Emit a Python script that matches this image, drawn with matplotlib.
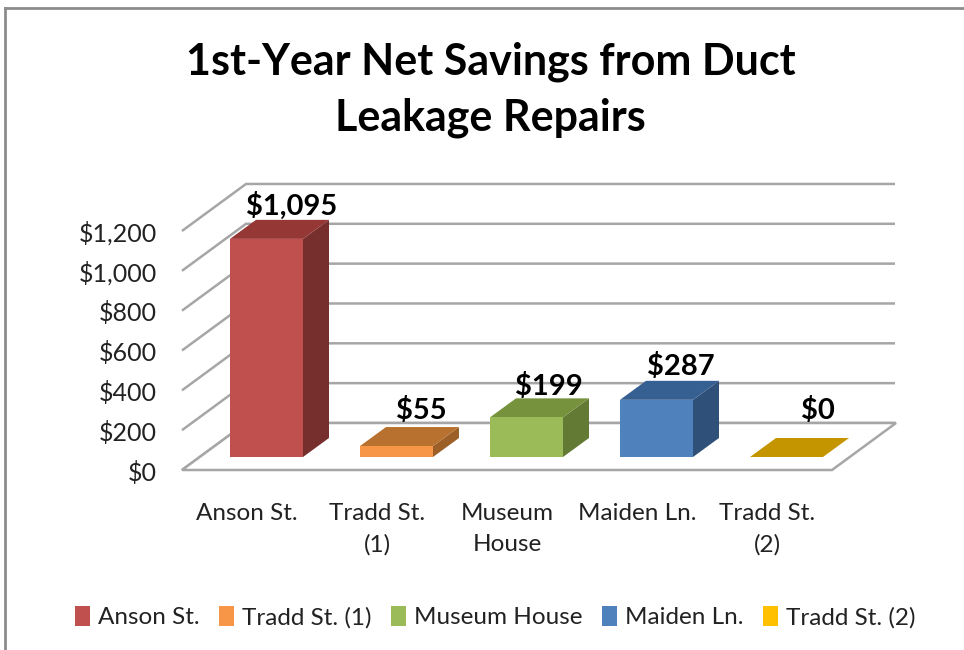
import numpy as np
import matplotlib
matplotlib.use('Agg')
import matplotlib.pyplot as plt
from matplotlib.patches import Polygon, Patch

plt.rcParams['font.family'] = ['Lato', 'DejaVu Sans']

categories = ['Anson St.', 'Tradd St. (1)', 'Museum House', 'Maiden Ln.', 'Tradd St. (2)']
tick_labels = ['Anson St.', 'Tradd St.\n(1)', 'Museum\nHouse', 'Maiden Ln.', 'Tradd St.\n(2)']
savings = [1095, 55, 199, 287, 0]
value_labels = ['$1,095', '$55', '$199', '$287', '$0']
y_ticks = [0, 200, 400, 600, 800, 1000, 1200]
front_colors = ['#c0504d', '#f79646', '#9bbb59', '#4f81bd', '#ffc000']
top_colors = ['#953735', '#b9712f', '#76923c', '#376092', '#c59500']
side_colors = ['#772f2d', '#9c5f28', '#637a35', '#2f5079', '#a37c00']

# pixel layout of the picture
PX_PER_X = 130.0
PX_PER_Y = 0.1992
X0_PX = 266.5
Y0_PX = 470.0
W, H = 964, 650
# where each value label sits relative to the back top edge of its bar, in px
label_dx_px = [25.5, 24.5, 22.5, 24.5, 31.5]
label_dy_px = [14, 17, 12, 14, 27]

fig = plt.figure(figsize=(W / 100, H / 100), dpi=100)
ax = fig.add_axes([0, 0, 1, 1])
ax.set_xlim((0 - X0_PX) / PX_PER_X, (W - X0_PX) / PX_PER_X)
ax.set_ylim((Y0_PX - H) / PX_PER_Y, Y0_PX / PX_PER_Y)
ax.axis('off')

# depth of the floor and of the bars, in data units
dx = 64 / PX_PER_X
dy = 47 / PX_PER_Y
bar_dx = 26 / PX_PER_X
bar_dy = 19 / PX_PER_Y
bar_w = 73 / PX_PER_X
bar_front_dy = 13 / PX_PER_Y
left = -84.5 / PX_PER_X
grid_c = '#a6a6a6'

# back wall and left wall gridlines
for v in y_ticks:
    ax.plot([left, left + dx, left + dx + 649 / PX_PER_X], [v, v + dy, v + dy],
            color=grid_c, lw=1.8, solid_capstyle='butt', zorder=1)
    ax.text(left - 25 / PX_PER_X, v - 2.5 / PX_PER_Y, '${:,}'.format(v), ha='right', va='center',
            fontsize=18, color='#222222', zorder=5)

# floor outline
ax.add_patch(Polygon([[left, 0], [left + 650 / PX_PER_X, 0],
                      [left + 650 / PX_PER_X + dx, dy], [left + dx, dy]],
                     closed=True, fc='white', ec=grid_c, lw=1.8, zorder=2))

for i, v in enumerate(savings):
    x0 = i - bar_w / 2
    x1 = i + bar_w / 2
    b = bar_front_dy
    t = b + v
    ax.add_patch(Polygon([[x1, b], [x1 + bar_dx, b + bar_dy], [x1 + bar_dx, t + bar_dy], [x1, t]],
                         fc=side_colors[i], ec='none', zorder=3))
    ax.add_patch(Polygon([[x0, t], [x1, t], [x1 + bar_dx, t + bar_dy], [x0 + bar_dx, t + bar_dy]],
                         fc=top_colors[i], ec='none', zorder=3))
    ax.bar(i, v, width=bar_w, bottom=b, color=front_colors[i], zorder=4)
    ax.text(i + label_dx_px[i] / PX_PER_X, t + bar_dy + label_dy_px[i] / PX_PER_Y, value_labels[i],
            ha='center', va='center', fontsize=21, fontweight='bold', color='black', zorder=6)
    ax.text(i - 19.5 / PX_PER_X, -33 / PX_PER_Y, tick_labels[i], ha='center', va='top',
            fontsize=17.5, color='#222222', linespacing=1.6, zorder=5)

# chart frame
ax.plot([5 / PX_PER_X + ax.get_xlim()[0]] * 2, [ax.get_ylim()[0], Y0_PX / PX_PER_Y - 8 / PX_PER_Y],
        color='#8c8c8c', lw=2)
ax.plot([5 / PX_PER_X + ax.get_xlim()[0], ax.get_xlim()[1]], [Y0_PX / PX_PER_Y - 8 / PX_PER_Y] * 2,
        color='#8c8c8c', lw=2)

fig.text(490.5 / W, 1 - 89.5 / H, '1st-Year Net Savings from Duct\nLeakage Repairs', ha='center', va='center',
         fontsize=31, fontweight='bold', color='black', linespacing=1.46)

handles = [Patch(fc=c, ec='none') for c in front_colors]
ax.legend(handles, categories, loc='center', bbox_to_anchor=(495.5 / W, 1 - 617 / H), ncol=5, frameon=False,
          fontsize=17.5, handlelength=0.62, handleheight=0.9, handletextpad=0.33, columnspacing=0.8,
          labelcolor='#222222')

fig.savefig('out.png', dpi=100)
